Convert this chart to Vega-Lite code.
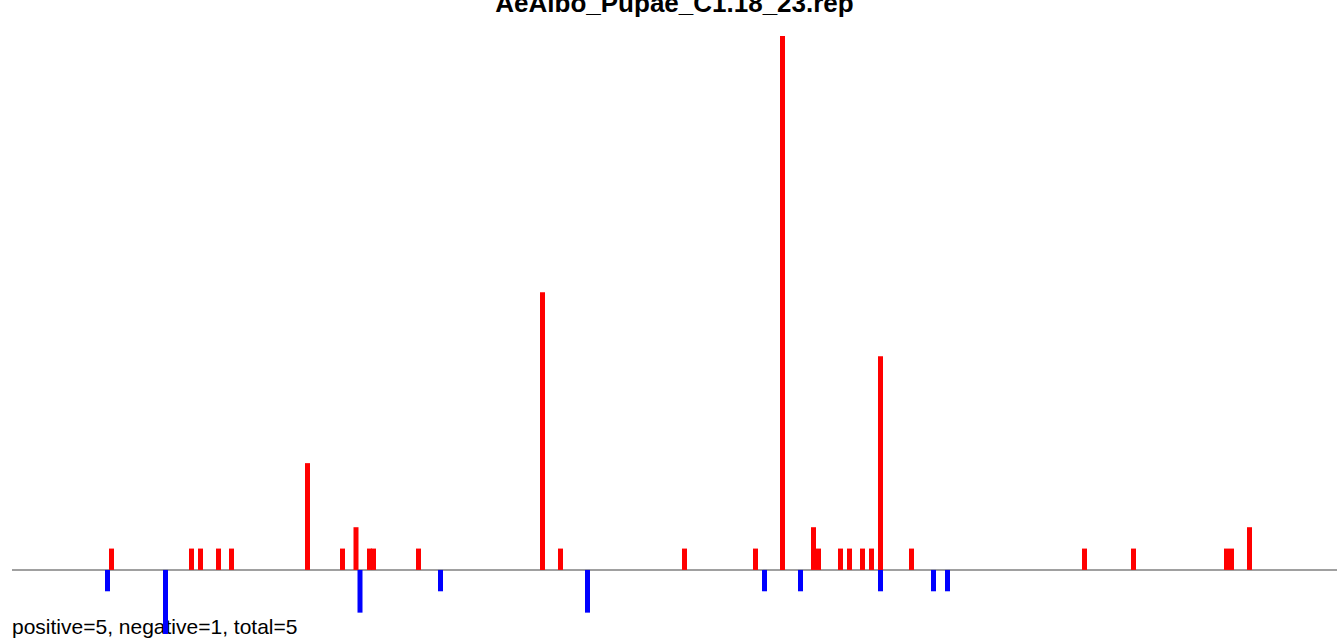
{
  "$schema": "https://vega.github.io/schema/vega-lite/v6.json",
  "width": 1325,
  "height": 598,
  "autosize": {"type": "none"},
  "padding": {"left": 12, "top": 36, "right": 0, "bottom": 6},
  "background": "white",
  "config": {"view": {"stroke": null}},
  "title": {
    "text": "AeAlbo_Pupae_C1.18_23.rep",
    "font": "Liberation Sans",
    "fontSize": 26,
    "fontWeight": "bold",
    "color": "black",
    "anchor": "middle",
    "baseline": "alphabetic",
    "offset": -2
  },
  "datasets": {
    "hits": [
      {"pos": 111.5, "value": 1, "strand": "+"},
      {"pos": 191.5, "value": 1, "strand": "+"},
      {"pos": 200.5, "value": 1, "strand": "+"},
      {"pos": 218.5, "value": 1, "strand": "+"},
      {"pos": 231.5, "value": 1, "strand": "+"},
      {"pos": 307.5, "value": 5, "strand": "+"},
      {"pos": 342.5, "value": 1, "strand": "+"},
      {"pos": 356, "value": 2, "strand": "+"},
      {"pos": 369.5, "value": 1, "strand": "+"},
      {"pos": 373.5, "value": 1, "strand": "+"},
      {"pos": 418.5, "value": 1, "strand": "+"},
      {"pos": 542.5, "value": 13, "strand": "+"},
      {"pos": 560.5, "value": 1, "strand": "+"},
      {"pos": 684.5, "value": 1, "strand": "+"},
      {"pos": 755.5, "value": 1, "strand": "+"},
      {"pos": 782.5, "value": 25, "strand": "+"},
      {"pos": 813.5, "value": 2, "strand": "+"},
      {"pos": 818.5, "value": 1, "strand": "+"},
      {"pos": 840.5, "value": 1, "strand": "+"},
      {"pos": 849.5, "value": 1, "strand": "+"},
      {"pos": 862.5, "value": 1, "strand": "+"},
      {"pos": 871.5, "value": 1, "strand": "+"},
      {"pos": 880.5, "value": 10, "strand": "+"},
      {"pos": 911.5, "value": 1, "strand": "+"},
      {"pos": 1084.5, "value": 1, "strand": "+"},
      {"pos": 1133.5, "value": 1, "strand": "+"},
      {"pos": 1226.5, "value": 1, "strand": "+"},
      {"pos": 1231.5, "value": 1, "strand": "+"},
      {"pos": 1249.5, "value": 2, "strand": "+"},
      {"pos": 107.5, "value": -1, "strand": "-"},
      {"pos": 165.5, "value": -3, "strand": "-"},
      {"pos": 360, "value": -2, "strand": "-"},
      {"pos": 440.5, "value": -1, "strand": "-"},
      {"pos": 587.5, "value": -2, "strand": "-"},
      {"pos": 764.5, "value": -1, "strand": "-"},
      {"pos": 800.5, "value": -1, "strand": "-"},
      {"pos": 880.5, "value": -1, "strand": "-"},
      {"pos": 933.5, "value": -1, "strand": "-"},
      {"pos": 947.5, "value": -1, "strand": "-"}
    ],
    "note": [{"label": "positive=5, negative=1, total=5"}]
  },
  "layer": [
    {
      "data": {"name": "note"},
      "mark": {"type": "text", "font": "Liberation Sans", "fontSize": 21, "align": "left", "baseline": "alphabetic", "color": "black"},
      "encoding": {
        "x": {"datum": 12, "type": "quantitative", "scale": {"domain": [12, 1337], "nice": false, "zero": false, "padding": 0}, "axis": null},
        "y": {"datum": -3, "type": "quantitative", "scale": {"domain": [-3, 25], "nice": false, "padding": 0}, "axis": null},
        "text": {"field": "label"}
      }
    },
    {
      "data": {"name": "hits"},
      "mark": {"type": "rule", "color": "#a0a0a0", "strokeWidth": 1.5},
      "encoding": {
        "y": {"datum": 0, "type": "quantitative"}
      }
    },
    {
      "data": {"name": "hits"},
      "mark": {"type": "bar", "width": 5},
      "encoding": {
        "x": {"field": "pos", "type": "quantitative", "scale": {"domain": [12, 1337], "nice": false, "zero": false, "padding": 0}},
        "y": {"field": "value", "type": "quantitative"},
        "color": {"field": "strand", "type": "nominal", "scale": {"domain": ["+", "-"], "range": ["#ff0000", "#0000ff"]}, "legend": null}
      }
    }
  ]
}
